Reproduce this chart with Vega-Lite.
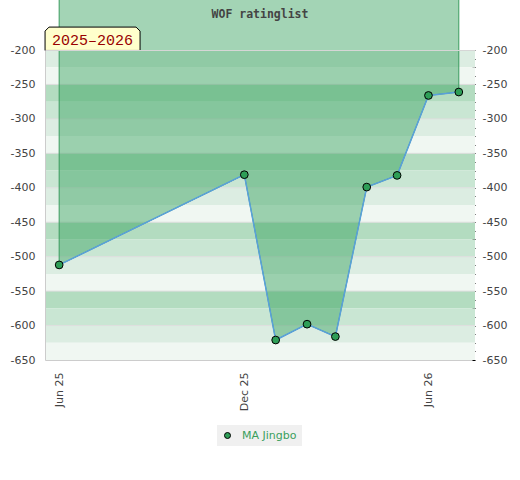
{
  "$schema": "https://vega.github.io/schema/vega-lite/v6.json",
  "width": 430,
  "height": 310,
  "autosize": {"type": "none"},
  "padding": {"left": 45, "top": 50, "right": 45, "bottom": 120},
  "background": "white",
  "title": {"text": "WOF ratinglist", "font": "DejaVu Sans Mono", "fontWeight": "bold", "fontSize": 11.5, "color": "#444444", "anchor": "middle", "frame": "group", "baseline": "alphabetic", "offset": -50},
  "config": {
    "view": {"stroke": null},
    "axis": {"labelFont": "DejaVu Sans", "labelFontSize": 11, "labelColor": "#444444"}
  },
  "datasets": {
    "bands": [
      {"lo": -225, "hi": -200, "shade": "a"},
      {"lo": -250, "hi": -225, "shade": "b"},
      {"lo": -275, "hi": -250, "shade": "c"},
      {"lo": -300, "hi": -275, "shade": "d"},
      {"lo": -325, "hi": -300, "shade": "a"},
      {"lo": -350, "hi": -325, "shade": "b"},
      {"lo": -375, "hi": -350, "shade": "c"},
      {"lo": -400, "hi": -375, "shade": "d"},
      {"lo": -425, "hi": -400, "shade": "a"},
      {"lo": -450, "hi": -425, "shade": "b"},
      {"lo": -475, "hi": -450, "shade": "c"},
      {"lo": -500, "hi": -475, "shade": "d"},
      {"lo": -525, "hi": -500, "shade": "a"},
      {"lo": -550, "hi": -525, "shade": "b"},
      {"lo": -575, "hi": -550, "shade": "c"},
      {"lo": -600, "hi": -575, "shade": "d"},
      {"lo": -625, "hi": -600, "shade": "a"},
      {"lo": -650, "hi": -625, "shade": "b"}
    ],
    "grid": [
      {"level": -250}, {"level": -300}, {"level": -350}, {"level": -400}, {"level": -450},
      {"level": -500}, {"level": -550}, {"level": -600}
    ],
    "ratings": [
      {"date": "2025-06-01", "rating": -512, "player": "MA Jingbo"},
      {"date": "2025-12-01", "rating": -381, "player": "MA Jingbo"},
      {"date": "2026-01-01", "rating": -621, "player": "MA Jingbo"},
      {"date": "2026-02-01", "rating": -598, "player": "MA Jingbo"},
      {"date": "2026-03-01", "rating": -616, "player": "MA Jingbo"},
      {"date": "2026-04-01", "rating": -399, "player": "MA Jingbo"},
      {"date": "2026-05-01", "rating": -382, "player": "MA Jingbo"},
      {"date": "2026-06-01", "rating": -266, "player": "MA Jingbo"},
      {"date": "2026-07-01", "rating": -261, "player": "MA Jingbo"}
    ],
    "season": [{"label": "2025–2026"}]
  },
  "layer": [
    {
      "data": {"name": "bands"},
      "mark": {"type": "rect"},
      "encoding": {
        "y": {"field": "lo", "type": "quantitative",
          "scale": {"domain": [-650, -200], "nice": false, "zero": false},
          "axis": {"orient": "left", "title": null, "values": [-650, -600, -550, -500, -450, -400, -350, -300, -250, -200],
            "labelExpr": "'-' + abs(datum.value)", "ticks": false, "labelPadding": 10,
            "grid": true, "gridColor": "#d6d6d6", "gridWidth": 1,
            "gridOpacity": {"condition": {"test": "datum.value === -200", "value": 1}, "value": 0},
            "domainColor": "#cccccc", "zindex": 1}},
        "y2": {"field": "hi"},
        "fill": {"field": "shade", "type": "nominal", "legend": null,
          "scale": {"domain": ["a", "b", "c", "d"], "range": ["#dcede2", "#f0f7f2", "#b3dcc0", "#c9e6d3"]}}
      }
    },
    {
      "data": {"name": "grid"},
      "mark": {"type": "rule", "color": "#dedede", "strokeWidth": 1},
      "encoding": {
        "y": {"field": "level", "type": "quantitative", "axis": null}
      }
    },
    {
      "data": {"name": "ratings"},
      "mark": {"type": "area", "fill": "#329f5a", "fillOpacity": 0.45, "stroke": "#3a9c5e", "strokeWidth": 1},
      "encoding": {
        "x": {"field": "date", "type": "temporal",
          "scale": {"type": "utc", "domain": [{"year": 2025, "month": 5, "date": 18, "utc": true}, {"year": 2026, "month": 7, "date": 17, "utc": true}]},
          "axis": {"title": null, "values": [{"year": 2025, "month": 6, "date": 1, "utc": true}, {"year": 2025, "month": 12, "date": 1, "utc": true}, {"year": 2026, "month": 6, "date": 1, "utc": true}],
            "format": "%b %y", "labelAngle": -90, "ticks": false, "grid": false, "labelPadding": 12, "domainColor": "#cccccc"}},
        "y": {"field": "rating", "type": "quantitative",
          "axis": {"orient": "right", "title": null,
            "values": [-650, -637.5, -625, -612.5, -600, -587.5, -575, -562.5, -550, -537.5, -525, -512.5, -500, -487.5, -475, -462.5, -450, -437.5, -425, -412.5, -400, -387.5, -375, -362.5, -350, -337.5, -325, -312.5, -300, -287.5, -275, -262.5, -250, -237.5, -225, -212.5, -200],
            "labelExpr": "datum.value % 50 === 0 ? '-' + abs(datum.value) : ''", "labelOverlap": false,
            "tickSize": -3, "tickColor": "#000000", "domain": false, "grid": false, "labelPadding": 10}},
        "y2": {"datum": -100}
      }
    },
    {
      "data": {"name": "ratings"},
      "mark": {"type": "line", "color": "#5aa0dc", "strokeWidth": 1.5},
      "encoding": {
        "x": {"field": "date", "type": "temporal"},
        "y": {"field": "rating", "type": "quantitative", "axis": null}
      }
    },
    {
      "data": {"name": "ratings"},
      "mark": {"type": "point", "filled": true, "size": 60, "stroke": "#000000", "strokeWidth": 1, "opacity": 1},
      "encoding": {
        "x": {"field": "date", "type": "temporal"},
        "y": {"field": "rating", "type": "quantitative", "axis": null},
        "color": {"field": "player", "type": "nominal", "scale": {"range": ["#2e9e57"]},
          "legend": {"orient": "none", "legendX": 172, "legendY": 375, "direction": "horizontal", "title": null,
            "fillColor": "#f0f0f0", "padding": 5, "labelColor": "#3a9f5c", "labelFont": "DejaVu Sans", "labelFontSize": 11,
            "symbolSize": 36, "symbolStrokeColor": "#000000", "symbolStrokeWidth": 1, "labelOffset": 9}}
      }
    },
    {
      "data": {"name": "season"},
      "mark": {"type": "point", "filled": true, "size": 9025, "fill": "#ffffcc", "stroke": "#000000", "strokeWidth": 1, "opacity": 1,
        "shape": "M-1,0.246L-1,-0.162L-0.916,-0.246L0.916,-0.246L1,-0.162L1,0.246Z"},
      "encoding": {
        "x": {"datum": {"year": 2025, "month": 7, "date": 4, "utc": true}, "type": "temporal"},
        "y": {"datum": -183.7, "type": "quantitative", "axis": null}
      }
    },
    {
      "data": {"name": "season"},
      "mark": {"type": "text", "font": "Liberation Mono", "fontSize": 15, "color": "#990000", "align": "center", "baseline": "middle", "dy": 1},
      "encoding": {
        "x": {"datum": {"year": 2025, "month": 7, "date": 4, "utc": true}, "type": "temporal"},
        "y": {"datum": -183.7, "type": "quantitative", "axis": null},
        "text": {"field": "label"}
      }
    }
  ],
  "resolve": {"axis": {"y": "independent"}}
}
